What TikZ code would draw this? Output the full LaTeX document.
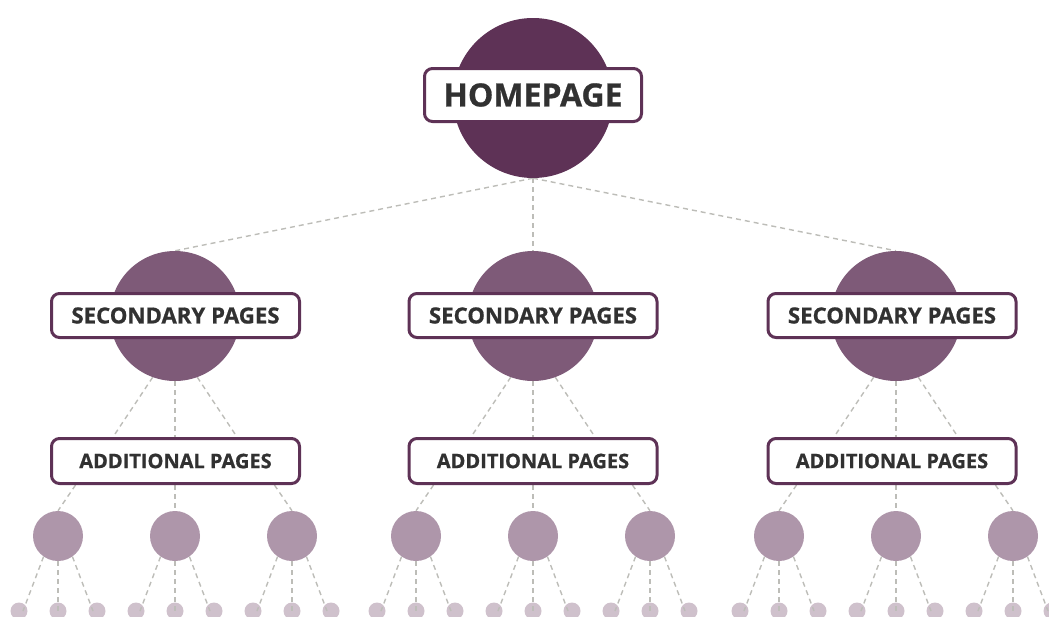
\documentclass[tikz,border=0pt]{standalone}
\usepackage{fontspec}
\setmainfont{Open Sans}[BoldFeatures={FakeBold=0.8}]
\usetikzlibrary{calc}
\pgfdeclarelayer{links}
\pgfsetlayers{links,main}
\definecolor{homec}{HTML}{5E3256}
\definecolor{secc}{HTML}{7E5A78}
\definecolor{smallc}{HTML}{AE96AA}
\definecolor{tinyc}{HTML}{CFC1CC}
\definecolor{textc}{HTML}{313131}
\definecolor{dashc}{HTML}{BDBDB8}
\tikzset{
  link/.style={draw=dashc, line width=1.4pt, dash pattern=on 5pt off 4pt},
  homedisc/.style={circle, fill=homec, minimum size=160pt, inner sep=0pt},
  secdisc/.style={circle, fill=secc, minimum size=130pt, inner sep=0pt},
  smalldisc/.style={circle, fill=smallc, minimum size=50pt, inner sep=0pt},
  tinydisc/.style={circle, fill=tinyc, minimum size=17pt, inner sep=0pt},
  pagebox/.style={draw=homec, line width=3pt, fill=white, rounded corners=8pt,
    text=textc, inner sep=0pt},
  homesize/.style={minimum width=217pt, minimum height=53pt,
    font=\fontsize{32}{32}\selectfont\bfseries},
  secsize/.style={minimum width=248pt, minimum height=44pt,
    font=\fontsize{22.2}{22}\selectfont\bfseries},
  addsize/.style={minimum width=248pt, minimum height=45pt,
    font=\fontsize{20}{20}\selectfont\bfseries}
}
\begin{document}
\begin{tikzpicture}[x=1pt,y=-1pt]
\useasboundingbox (0,0) rectangle (1049,616);
\clip (0,0) rectangle (1049,616);

% top level
\node[homedisc] (home) at (533,98) {};
\node[pagebox, homesize] (homebox) at (533,95) {HOMEPAGE};

\foreach \i/\cx/\bx in {1/175/175.5, 2/533/533, 3/896/892}{
  % second level and its boxes
  \node[secdisc] (s\i) at (\cx,316) {};
  \node[pagebox, secsize] (sb\i) at (\bx,315.5) {SECONDARY PAGES};
  \node[pagebox, addsize] (ab\i) at (\bx,461) {ADDITIONAL PAGES};
  \begin{pgfonlayer}{links}
    \draw[link] (home.south) -- (s\i.north);
    \draw[link] (s\i.250) -- ($(s\i |- ab\i.north)+(-62,0)$);
    \draw[link] (s\i.south) -- (s\i |- ab\i.north);
    \draw[link] (s\i.290) -- ($(s\i |- ab\i.north)+(62,0)$);
  \end{pgfonlayer}
  % third and fourth levels
  \foreach \j/\dx in {1/-117, 2/0, 3/117}{
    \node[smalldisc] (m\i\j) at (\cx+\dx,536) {};
    \begin{pgfonlayer}{links}
      \draw[link] ($(s\i |- ab\i.south)+(0.85*\dx,0)$) -- (m\i\j.north);
    \end{pgfonlayer}
    \foreach \k/\ex in {1/-39, 2/0, 3/39}{
      \node[tinydisc] (t\i\j\k) at (\cx+\dx+\ex,611) {};
    }
    \draw[link] (m\i\j.235) -- ($(t\i\j1.center)+(4,0)$);
    \draw[link] (m\i\j.south) -- (t\i\j2.center);
    \draw[link] (m\i\j.305) -- ($(t\i\j3.center)+(-4,0)$);
  }
}
\end{tikzpicture}
\end{document}
